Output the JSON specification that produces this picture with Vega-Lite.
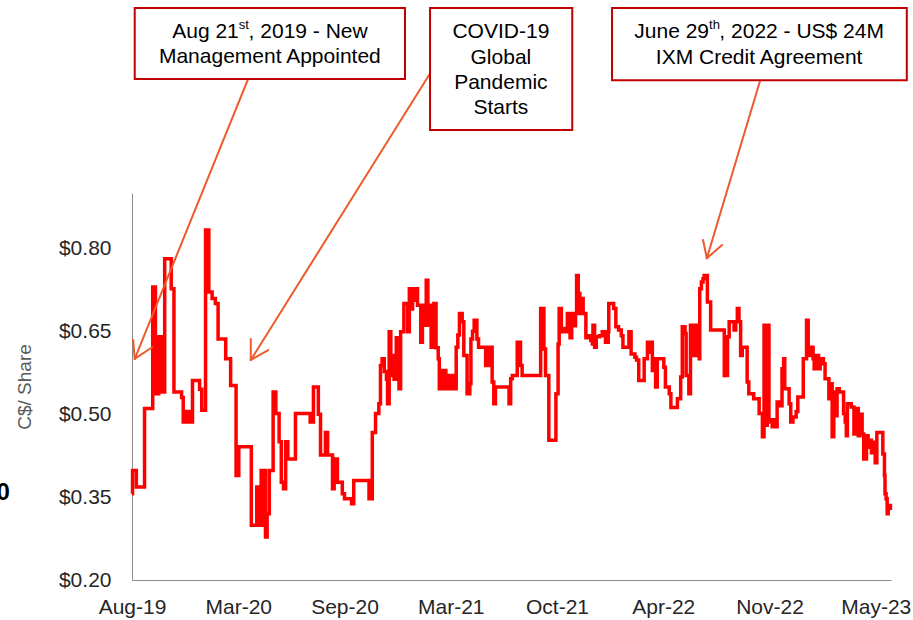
{
  "$schema": "https://vega.github.io/schema/vega-lite/v6.json",
  "width": 759,
  "height": 387,
  "autosize": {"type": "none"},
  "padding": {"left": 132, "top": 193, "right": 22, "bottom": 40},
  "background": "white",
  "config": {
    "view": {"stroke": null},
    "font": "Liberation Sans",
    "axis": {"grid": false, "ticks": false, "domainColor": "#8c8c8c", "domainWidth": 1, "labelFont": "Liberation Sans", "labelColor": "#262626", "labelFontSize": 21, "titleFont": "Liberation Sans"}
  },
  "layer": [
    {
      "data": {"values": [
        {"date":"2019-08-21","price":0.356},{"date":"2019-08-22","price":0.398},{"date":"2019-08-29","price":0.368},{"date":"2019-09-13","price":0.510},{"date":"2019-09-28","price":0.730},{"date":"2019-10-03","price":0.537},{"date":"2019-10-09","price":0.640},{"date":"2019-10-15","price":0.540},{"date":"2019-10-20","price":0.781},{"date":"2019-11-01","price":0.727},{"date":"2019-11-06","price":0.540},{"date":"2019-11-20","price":0.530},{"date":"2019-11-23","price":0.486},{"date":"2019-11-29","price":0.505},{"date":"2019-12-04","price":0.486},{"date":"2019-12-10","price":0.561},{"date":"2019-12-23","price":0.545},{"date":"2019-12-27","price":0.507},
        {"date":"2020-01-03","price":0.833},{"date":"2020-01-09","price":0.721},{"date":"2020-01-15","price":0.709},{"date":"2020-01-21","price":0.700},{"date":"2020-01-26","price":0.636},{"date":"2020-02-09","price":0.600},{"date":"2020-02-18","price":0.552},{"date":"2020-02-28","price":0.389},{"date":"2020-03-04","price":0.441},{"date":"2020-03-27","price":0.299},{"date":"2020-04-06","price":0.368},{"date":"2020-04-10","price":0.299},{"date":"2020-04-14","price":0.398},{"date":"2020-04-17","price":0.299},{"date":"2020-04-19","price":0.398},{"date":"2020-04-22","price":0.278},{"date":"2020-04-25","price":0.320},{"date":"2020-04-29","price":0.398},{"date":"2020-05-06","price":0.540},{"date":"2020-05-11","price":0.501},{"date":"2020-05-17","price":0.450},{"date":"2020-05-21","price":0.377},{"date":"2020-05-25","price":0.365},{"date":"2020-05-29","price":0.450},{"date":"2020-06-02","price":0.419},{"date":"2020-06-16","price":0.501},{"date":"2020-07-13","price":0.486},{"date":"2020-07-19","price":0.549},{"date":"2020-07-28","price":0.500},{"date":"2020-08-01","price":0.426},{"date":"2020-08-10","price":0.467},{"date":"2020-08-14","price":0.426},{"date":"2020-08-23","price":0.365},{"date":"2020-08-26","price":0.419},{"date":"2020-09-01","price":0.377},{"date":"2020-09-10","price":0.356},{"date":"2020-09-14","price":0.347},{"date":"2020-09-27","price":0.338},{"date":"2020-10-01","price":0.380},{"date":"2020-10-29","price":0.347},{"date":"2020-11-04","price":0.467},{"date":"2020-11-10","price":0.501},{"date":"2020-11-16","price":0.519},{"date":"2020-11-19","price":0.588},{"date":"2020-11-22","price":0.600},{"date":"2020-11-26","price":0.577},{"date":"2020-11-30","price":0.563},{"date":"2020-12-02","price":0.519},{"date":"2020-12-05","price":0.649},{"date":"2020-12-08","price":0.570},{"date":"2020-12-11","price":0.606},{"date":"2020-12-14","price":0.563},{"date":"2020-12-18","price":0.638},{"date":"2020-12-23","price":0.546},{"date":"2020-12-26","price":0.649},
        {"date":"2021-01-01","price":0.700},{"date":"2021-01-08","price":0.649},{"date":"2021-01-11","price":0.727},{"date":"2021-01-14","price":0.690},{"date":"2021-01-17","price":0.727},{"date":"2021-01-20","price":0.706},{"date":"2021-01-23","price":0.727},{"date":"2021-01-26","price":0.697},{"date":"2021-02-01","price":0.630},{"date":"2021-02-04","price":0.697},{"date":"2021-02-07","price":0.661},{"date":"2021-02-11","price":0.742},{"date":"2021-02-14","price":0.661},{"date":"2021-02-17","price":0.697},{"date":"2021-02-20","price":0.621},{"date":"2021-02-25","price":0.700},{"date":"2021-03-01","price":0.620},{"date":"2021-03-05","price":0.600},{"date":"2021-03-07","price":0.546},{"date":"2021-03-13","price":0.579},{"date":"2021-03-19","price":0.546},{"date":"2021-03-23","price":0.570},{"date":"2021-03-28","price":0.546},{"date":"2021-04-01","price":0.570},{"date":"2021-04-04","price":0.546},{"date":"2021-04-07","price":0.621},{"date":"2021-04-10","price":0.643},{"date":"2021-04-13","price":0.682},{"date":"2021-04-18","price":0.667},{"date":"2021-04-21","price":0.606},{"date":"2021-04-27","price":0.537},{"date":"2021-05-02","price":0.555},{"date":"2021-05-04","price":0.636},{"date":"2021-05-07","price":0.650},{"date":"2021-05-10","price":0.670},{"date":"2021-05-15","price":0.636},{"date":"2021-05-18","price":0.621},{"date":"2021-05-31","price":0.588},{"date":"2021-06-06","price":0.621},{"date":"2021-06-12","price":0.558},{"date":"2021-06-15","price":0.519},{"date":"2021-06-18","price":0.549},{"date":"2021-07-13","price":0.519},{"date":"2021-07-16","price":0.564},{"date":"2021-07-19","price":0.570},{"date":"2021-07-28","price":0.630},{"date":"2021-08-03","price":0.588},{"date":"2021-08-06","price":0.570},{"date":"2021-09-09","price":0.691},{"date":"2021-09-15","price":0.618},{"date":"2021-09-18","price":0.570},{"date":"2021-09-24","price":0.453},{"date":"2021-10-07","price":0.537},{"date":"2021-10-11","price":0.627},{"date":"2021-10-13","price":0.691},{"date":"2021-10-17","price":0.649},{"date":"2021-10-22","price":0.655},{"date":"2021-10-25","price":0.649},{"date":"2021-10-28","price":0.682},{"date":"2021-11-02","price":0.638},{"date":"2021-11-05","price":0.682},{"date":"2021-11-09","price":0.660},{"date":"2021-11-12","price":0.682},{"date":"2021-11-14","price":0.751},{"date":"2021-11-17","price":0.718},{"date":"2021-11-20","price":0.682},{"date":"2021-11-23","price":0.709},{"date":"2021-11-26","price":0.682},{"date":"2021-12-01","price":0.638},{"date":"2021-12-07","price":0.642},{"date":"2021-12-10","price":0.633},{"date":"2021-12-13","price":0.627},{"date":"2021-12-14","price":0.661},{"date":"2021-12-17","price":0.621},{"date":"2021-12-20","price":0.640},{"date":"2021-12-26","price":0.642},{"date":"2021-12-31","price":0.649},
        {"date":"2022-01-06","price":0.630},{"date":"2022-01-11","price":0.649},{"date":"2022-01-12","price":0.700},{"date":"2022-01-21","price":0.691},{"date":"2022-01-25","price":0.658},{"date":"2022-01-30","price":0.652},{"date":"2022-02-04","price":0.642},{"date":"2022-02-07","price":0.621},{"date":"2022-02-18","price":0.649},{"date":"2022-02-22","price":0.609},{"date":"2022-03-01","price":0.603},{"date":"2022-03-04","price":0.598},{"date":"2022-03-08","price":0.561},{"date":"2022-03-18","price":0.600},{"date":"2022-03-24","price":0.630},{"date":"2022-03-27","price":0.612},{"date":"2022-03-30","price":0.630},{"date":"2022-04-02","price":0.579},{"date":"2022-04-05","price":0.600},{"date":"2022-04-08","price":0.549},{"date":"2022-04-11","price":0.600},{"date":"2022-04-23","price":0.585},{"date":"2022-04-26","price":0.549},{"date":"2022-05-03","price":0.537},{"date":"2022-05-06","price":0.512},{"date":"2022-05-18","price":0.528},{"date":"2022-05-24","price":0.567},{"date":"2022-05-27","price":0.658},{"date":"2022-06-01","price":0.646},{"date":"2022-06-03","price":0.570},{"date":"2022-06-08","price":0.537},{"date":"2022-06-11","price":0.661},{"date":"2022-06-17","price":0.606},{"date":"2022-06-21","price":0.661},{"date":"2022-06-24","price":0.606},{"date":"2022-06-27","price":0.600},{"date":"2022-06-28","price":0.727},{"date":"2022-07-01","price":0.739},{"date":"2022-07-04","price":0.745},{"date":"2022-07-06","price":0.751},{"date":"2022-07-12","price":0.703},{"date":"2022-07-18","price":0.652},{"date":"2022-08-12","price":0.570},{"date":"2022-08-18","price":0.640},{"date":"2022-08-21","price":0.667},{"date":"2022-08-30","price":0.652},{"date":"2022-09-02","price":0.667},{"date":"2022-09-05","price":0.691},{"date":"2022-09-08","price":0.667},{"date":"2022-09-11","price":0.606},{"date":"2022-09-14","price":0.621},{"date":"2022-09-23","price":0.558},{"date":"2022-09-26","price":0.537},{"date":"2022-10-05","price":0.528},{"date":"2022-10-15","price":0.501},{"date":"2022-10-21","price":0.459},{"date":"2022-10-24","price":0.661},{"date":"2022-10-27","price":0.480},{"date":"2022-10-30","price":0.661},{"date":"2022-11-02","price":0.486},{"date":"2022-11-05","price":0.490},{"date":"2022-11-08","price":0.477},{"date":"2022-11-11","price":0.490},{"date":"2022-11-14","price":0.477},{"date":"2022-11-17","price":0.522},{"date":"2022-11-23","price":0.515},{"date":"2022-11-26","price":0.582},{"date":"2022-11-29","price":0.600},{"date":"2022-12-01","price":0.546},{"date":"2022-12-09","price":0.519},{"date":"2022-12-12","price":0.486},{"date":"2022-12-16","price":0.495},{"date":"2022-12-22","price":0.505},{"date":"2022-12-25","price":0.531},
        {"date":"2023-01-04","price":0.600},{"date":"2023-01-10","price":0.670},{"date":"2023-01-13","price":0.606},{"date":"2023-01-16","price":0.621},{"date":"2023-01-22","price":0.600},{"date":"2023-01-24","price":0.582},{"date":"2023-01-27","price":0.606},{"date":"2023-02-01","price":0.582},{"date":"2023-02-04","price":0.600},{"date":"2023-02-10","price":0.591},{"date":"2023-02-13","price":0.564},{"date":"2023-02-20","price":0.528},{"date":"2023-02-23","price":0.555},{"date":"2023-02-26","price":0.459},{"date":"2023-03-01","price":0.540},{"date":"2023-03-04","price":0.525},{"date":"2023-03-06","price":0.497},{"date":"2023-03-07","price":0.546},{"date":"2023-03-11","price":0.540},{"date":"2023-03-19","price":0.501},{"date":"2023-03-22","price":0.486},{"date":"2023-03-24","price":0.461},{"date":"2023-03-26","price":0.519},{"date":"2023-04-02","price":0.513},{"date":"2023-04-07","price":0.464},{"date":"2023-04-09","price":0.510},{"date":"2023-04-15","price":0.461},{"date":"2023-04-18","price":0.500},{"date":"2023-04-22","price":0.464},{"date":"2023-04-25","price":0.419},{"date":"2023-04-30","price":0.461},{"date":"2023-05-03","price":0.440},{"date":"2023-05-06","price":0.453},{"date":"2023-05-09","price":0.430},{"date":"2023-05-13","price":0.449},{"date":"2023-05-16","price":0.412},{"date":"2023-05-19","price":0.467},{"date":"2023-05-30","price":0.428},{"date":"2023-06-02","price":0.389},{"date":"2023-06-03","price":0.356},{"date":"2023-06-05","price":0.347},{"date":"2023-06-07","price":0.320},{"date":"2023-06-09","price":0.330},{"date":"2023-06-13","price":0.338}
      ]},
      "mark": {"type": "line", "color": "#ff0000", "strokeWidth": 3.5, "interpolate": "step-after", "clip": false},
      "encoding": {
        "x": {"field": "date", "type": "temporal", "title": null,
          "scale": {"type": "utc", "domain": [{"year": 2019, "month": 8, "date": 21, "utc": true}, {"year": 2023, "month": 6, "date": 14, "utc": true}]},
          "axis": {"labelExpr": "utcFormat(datum.value, '%b-%y')", "labelPadding": 16, "labelOverlap": false, "labelFlush": false, "labelBound": false,
            "values": [{"year": 2019, "month": 8, "date": 21, "utc": true}, {"year": 2020, "month": 3, "date": 3, "utc": true}, {"year": 2020, "month": 9, "date": 14, "utc": true}, {"year": 2021, "month": 3, "date": 28, "utc": true}, {"year": 2021, "month": 10, "date": 9, "utc": true}, {"year": 2022, "month": 4, "date": 22, "utc": true}, {"year": 2022, "month": 11, "date": 3, "utc": true}, {"year": 2023, "month": 5, "date": 17, "utc": true}]}},
        "y": {"field": "price", "type": "quantitative", "title": "C$/ Share",
          "scale": {"domain": [0.2, 0.9], "nice": false, "zero": false},
          "axis": {"values": [0.2, 0.35, 0.5, 0.65, 0.8], "format": "$.2f", "labelPadding": 21, "labelOverlap": false, "titleFontSize": 19, "titleFontWeight": "normal", "titleColor": "#595959", "titlePadding": 24}}
      }
    },
    {
      "data": {"values": [
        {"x": "2020-03-21", "y": 1.106, "x2": "2019-08-26", "y2": 0.600},
        {"x": "2019-08-26", "y": 0.600, "x2": "2019-08-23", "y2": 0.634},
        {"x": "2019-08-26", "y": 0.600, "x2": "2019-09-27", "y2": 0.621},
        {"x": "2021-02-22", "y": 1.1225, "x2": "2020-03-26", "y2": 0.598},
        {"x": "2020-03-26", "y": 0.598, "x2": "2020-03-26", "y2": 0.636},
        {"x": "2020-03-26", "y": 0.598, "x2": "2020-04-27", "y2": 0.616},
        {"x": "2022-10-17", "y": 1.104, "x2": "2022-07-11", "y2": 0.782},
        {"x": "2022-07-11", "y": 0.782, "x2": "2022-07-04", "y2": 0.815},
        {"x": "2022-07-11", "y": 0.782, "x2": "2022-08-08", "y2": 0.806}
      ], "format": {"parse": {"x": "date", "x2": "date"}}},
      "mark": {"type": "rule", "color": "#ee5a2c", "strokeWidth": 2, "strokeCap": "round", "clip": false},
      "encoding": {
        "x": {"field": "x", "type": "temporal", "title": null},
        "x2": {"field": "x2"},
        "y": {"field": "y", "type": "quantitative", "title": "C$/ Share"},
        "y2": {"field": "y2"}
      }
    },
    {
      "data": {"values": [
        {"x": "2019-08-26", "x2": "2021-01-03", "y": 1.2346, "y2": 1.106},
        {"x": "2021-02-18", "x2": "2021-11-06", "y": 1.2346, "y2": 1.014},
        {"x": "2022-01-18", "x2": "2023-07-13", "y": 1.2346, "y2": 1.104}
      ], "format": {"parse": {"x": "date", "x2": "date"}}},
      "mark": {"type": "rect", "fill": "white", "stroke": "#c00000", "strokeWidth": 2, "clip": false},
      "encoding": {
        "x": {"field": "x", "type": "temporal", "title": null},
        "x2": {"field": "x2"},
        "y": {"field": "y", "type": "quantitative", "title": "C$/ Share"},
        "y2": {"field": "y2"}
      }
    },
    {
      "data": {"values": [
        {"x": "2020-04-30", "y": 1.1465, "t": "Management Appointed"},
        {"x": "2021-06-28", "y": 1.1918, "t": "COVID-19"},
        {"x": "2021-06-28", "y": 1.1436, "t": "Global"},
        {"x": "2021-06-28", "y": 1.0984, "t": "Pandemic"},
        {"x": "2021-06-28", "y": 1.0532, "t": "Starts"},
        {"x": "2022-10-15", "y": 1.1436, "t": "IXM Credit Agreement"}
      ]},
      "mark": {"type": "text", "align": "center", "baseline": "middle", "font": "Liberation Sans", "fontSize": 21, "color": "#000000", "clip": false},
      "encoding": {
        "x": {"field": "x", "type": "temporal", "title": null},
        "y": {"field": "y", "type": "quantitative", "title": "C$/ Share"},
        "text": {"field": "t"}
      }
    },
    {
      "data": {"values": [
        {"x": "2020-03-04", "y": 1.1918, "t": "Aug 21"},
        {"x": "2022-07-15", "y": 1.1907, "t": "June 29"}
      ]},
      "mark": {"type": "text", "align": "right", "baseline": "middle", "font": "Liberation Sans", "fontSize": 21, "color": "#000000", "clip": false},
      "encoding": {
        "x": {"field": "x", "type": "temporal", "title": null},
        "y": {"field": "y", "type": "quantitative", "title": "C$/ Share"},
        "text": {"field": "t"}
      }
    },
    {
      "data": {"values": [
        {"x": "2020-03-04", "y": 1.1918, "t": "st"},
        {"x": "2022-07-15", "y": 1.1907, "t": "th"}
      ]},
      "mark": {"type": "text", "align": "left", "baseline": "middle", "dy": -7, "font": "Liberation Sans", "fontSize": 13, "color": "#000000", "clip": false},
      "encoding": {
        "x": {"field": "x", "type": "temporal", "title": null},
        "y": {"field": "y", "type": "quantitative", "title": "C$/ Share"},
        "text": {"field": "t"}
      }
    },
    {
      "data": {"values": [
        {"x": "2020-03-22", "y": 1.1918, "t": ", 2019 - New"},
        {"x": "2022-08-03", "y": 1.1907, "t": ", 2022 - US$ 24M"}
      ]},
      "mark": {"type": "text", "align": "left", "baseline": "middle", "font": "Liberation Sans", "fontSize": 21, "color": "#000000", "clip": false},
      "encoding": {
        "x": {"field": "x", "type": "temporal", "title": null},
        "y": {"field": "y", "type": "quantitative", "title": "C$/ Share"},
        "text": {"field": "t"}
      }
    },
    {
      "data": {"values": [
        {"x": "2019-01-09", "y": 0.357, "t": "0"}
      ]},
      "mark": {"type": "text", "align": "right", "baseline": "middle", "font": "Liberation Sans", "fontSize": 24, "fontWeight": "bold", "color": "#000000", "clip": false},
      "encoding": {
        "x": {"field": "x", "type": "temporal", "title": null},
        "y": {"field": "y", "type": "quantitative", "title": "C$/ Share"},
        "text": {"field": "t"}
      }
    }
  ]
}
